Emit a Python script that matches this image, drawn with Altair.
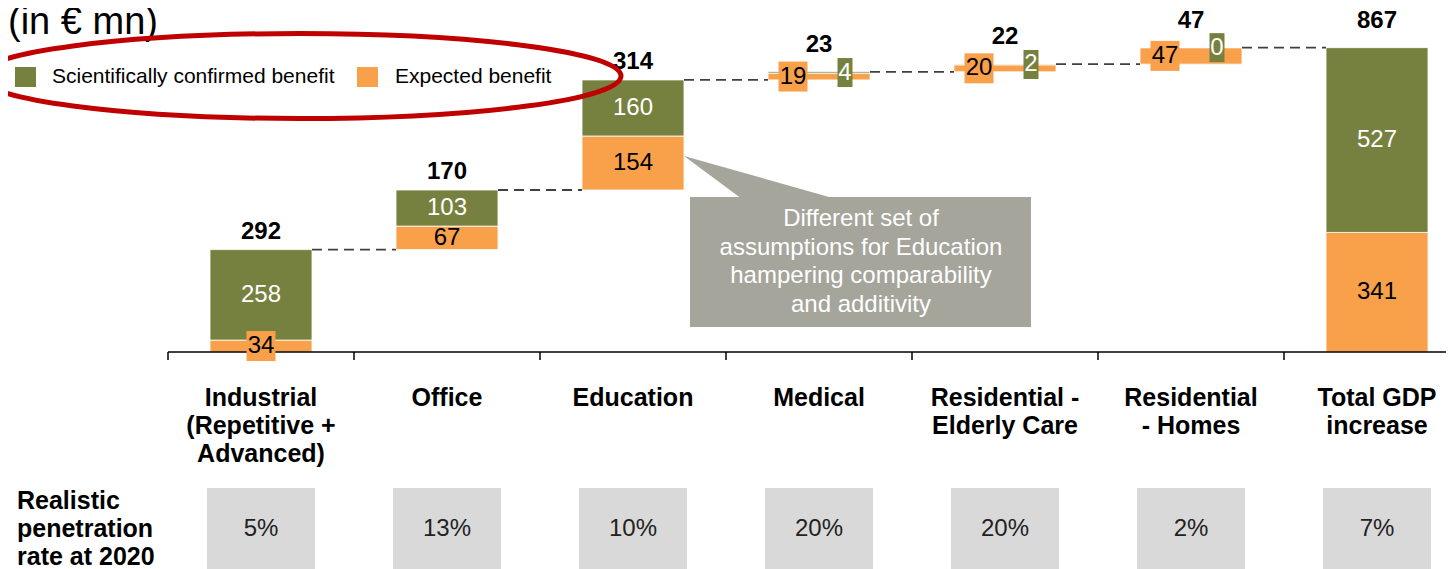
import altair as alt
import pandas as pd

# ---------------- data ----------------
categories = ["Industrial\n(Repetitive +\nAdvanced)", "Office", "Education", "Medical",
              "Residential -\nElderly Care", "Residential\n- Homes", "Total GDP\nincrease"]
confirmed = [258, 103, 160, 4, 2, 0, 527]
expected = [34, 67, 154, 19, 20, 47, 341]
totals = [292, 170, 314, 23, 22, 47, 867]
is_total = [False, False, False, False, False, False, True]
penetration = ["5%", "13%", "10%", "20%", "20%", "2%", "7%"]
callout_text = "Different set of\nassumptions for Education\nhampering comparability\nand additivity"
row_label = "Realistic\npenetration\nrate at 2020"
title_text = "(in \u20ac mn)"
legend_labels = ["Scientifically confirmed benefit", "Expected benefit"]

# ---------------- style ----------------
GREEN = "#77813f"
ORANGE = "#f9a04a"
CALLOUT = "#a5a59b"
BOXGREY = "#d9d9d9"
FONT = "Liberation Sans"

PLOT_W, PLOT_H = 1438, 561
X_DOMAIN = [-0.5, 6.5]
X_RANGE = [160, 1462]
Y_DOMAIN = [0, 867]
Y_RANGE = [344, 40]
STEP_PX = (X_RANGE[1] - X_RANGE[0]) / (X_DOMAIN[1] - X_DOMAIN[0])
UNIT_PX = (Y_RANGE[0] - Y_RANGE[1]) / (Y_DOMAIN[1] - Y_DOMAIN[0])
BAR_HALF = 51 / STEP_PX
PBOX_HALF = 54 / STEP_PX
SMALL_PX = 20
BOX_SHIFT = 26

xs = alt.Scale(domain=X_DOMAIN, range=X_RANGE)
ys = alt.Scale(domain=Y_DOMAIN, range=Y_RANGE, nice=False, zero=False)
cs = alt.Scale(domain=["Confirmed", "Expected"], range=[GREEN, ORANGE])

# ---------------- build tables ----------------
segs, tops, conns, big_lab, small_lab, cats = [], [], [], [], [], []
running = 0
for i in range(len(categories)):
    g, o = confirmed[i], expected[i]
    b = 0 if is_total[i] else running
    segs.append(dict(x=i - BAR_HALF, x2=i + BAR_HALF, y=b, y2=b + o, kind="Expected"))
    segs.append(dict(x=i - BAR_HALF, x2=i + BAR_HALF, y=b + o, y2=b + o + g, kind="Confirmed"))
    top = b + o + g
    tops.append(dict(x=i, y=top, label=str(totals[i]), grp="low" if i < 3 else "high"))
    cats.append(dict(x=i, label=categories[i], pen=penetration[i],
                     px1=i - PBOX_HALF, px2=i + PBOX_HALF))
    o_small = o * UNIT_PX < SMALL_PX
    g_small = g * UNIT_PX < SMALL_PX
    off = BOX_SHIFT / STEP_PX if (o_small and g_small) else 0
    for val, center, kind, small, sgn in [(o, b + o / 2, "Expected", o_small, -1),
                                          (g, b + o + g / 2, "Confirmed", g_small, 1)]:
        if small:
            small_lab.append(dict(x=i + sgn * off, y=center, label=str(val), kind=kind,
                                  digits=len(str(val))))
        else:
            big_lab.append(dict(x=i, y=center, label=str(val), kind=kind))
    if not is_total[i]:
        running += g + o
    if i < len(categories) - 1:
        conns.append(dict(x=i + BAR_HALF, x2=i + 1 - BAR_HALF, y=running))

segs, tops, conns = pd.DataFrame(segs), pd.DataFrame(tops), pd.DataFrame(conns)
big_lab, small_lab, cats = pd.DataFrame(big_lab), pd.DataFrame(small_lab), pd.DataFrame(cats)
one = pd.DataFrame({"a": [0]})
axis_df = pd.DataFrame({"x": [X_DOMAIN[0]], "x2": [len(categories) + 1], "y": [0]})
tick_df = pd.DataFrame({"x": [X_DOMAIN[0] + k for k in range(len(categories) + 1)], "y": 0})

# ---------------- layers ----------------
bars = alt.Chart(segs).mark_rect(stroke="white", strokeWidth=0.8).encode(
    x=alt.X("x:Q", scale=xs, axis=None), x2="x2:Q",
    y=alt.Y("y:Q", scale=ys, axis=None), y2="y2:Q",
    color=alt.Color("kind:N", scale=cs, legend=None))

axis_line = alt.Chart(axis_df).mark_rule(color="#000", strokeWidth=1.5).encode(
    x=alt.X("x:Q", scale=xs, axis=None), x2="x2:Q", y=alt.Y("y:Q", scale=ys, axis=None))
axis_ticks = alt.Chart(tick_df).mark_rule(color="#000", strokeWidth=1.5).encode(
    x=alt.X("x:Q", scale=xs, axis=None), y=alt.Y("y:Q", scale=ys, axis=None),
    y2=alt.value(Y_RANGE[0] + 8))

connectors = alt.Chart(conns).mark_rule(color="#404040", strokeWidth=1.8,
                                        strokeDash=[10, 6]).encode(
    x=alt.X("x:Q", scale=xs, axis=None), x2="x2:Q", y=alt.Y("y:Q", scale=ys, axis=None))

def seg_text(kind, col):
    return alt.Chart(big_lab).transform_filter(alt.datum.kind == kind).mark_text(
        font=FONT, fontSize=24, color=col, baseline="middle").encode(
        x=alt.X("x:Q", scale=xs, axis=None), y=alt.Y("y:Q", scale=ys, axis=None),
        text="label:N")

def box_layer(digits, path, size):
    return alt.Chart(small_lab).transform_filter(alt.datum.digits == digits).mark_point(
        shape=path, size=size, filled=True, opacity=1, strokeWidth=0).encode(
        x=alt.X("x:Q", scale=xs, axis=None), y=alt.Y("y:Q", scale=ys, axis=None),
        color=alt.Color("kind:N", scale=cs, legend=None))

box2 = box_layer(2, "M -0.967 -1 L 0.967 -1 L 0.967 1 L -0.967 1 Z", 900)
box1 = box_layer(1, "M -0.517 -1 L 0.517 -1 L 0.517 1 L -0.517 1 Z", 841)

def small_text(kind, col):
    return alt.Chart(small_lab).transform_filter(alt.datum.kind == kind).mark_text(
        font=FONT, fontSize=24, color=col, baseline="middle").encode(
        x=alt.X("x:Q", scale=xs, axis=None), y=alt.Y("y:Q", scale=ys, axis=None),
        text="label:N")

def top_text(grp, dy):
    return alt.Chart(tops).transform_filter(alt.datum.grp == grp).mark_text(
        font=FONT, fontSize=24, fontWeight="bold", color="#000", baseline="middle",
        dy=dy).encode(
        x=alt.X("x:Q", scale=xs, axis=None), y=alt.Y("y:Q", scale=ys, axis=None),
        text="label:N")

cat_text = alt.Chart(cats).mark_text(
    font=FONT, fontSize=25, fontWeight="bold", color="#000", baseline="top",
    align="center", lineBreak="\n", lineHeight=28).encode(
    x=alt.X("x:Q", scale=xs, axis=None), y=alt.value(378), text="label:N")

pen_boxes = alt.Chart(cats).mark_rect(color=BOXGREY).encode(
    x=alt.X("px1:Q", scale=xs, axis=None), x2="px2:Q", y=alt.value(480), y2=alt.value(620))

pen_text = alt.Chart(cats).mark_text(font=FONT, fontSize=24, color="#222",
                                     baseline="middle").encode(
    x=alt.X("x:Q", scale=xs, axis=None), y=alt.value(521), text="pen:N")

row_text = alt.Chart(one).mark_text(
    font=FONT, fontSize=25, fontWeight="bold", color="#000", align="left",
    baseline="top", lineBreak="\n", lineHeight=28, text=row_label).encode(
    x=alt.value(9), y=alt.value(481))

title = alt.Chart(one).mark_text(font=FONT, fontSize=38, color="#000", align="left",
                                 baseline="alphabetic", text=title_text).encode(
    x=alt.value(0), y=alt.value(26))

leg_g = alt.Chart(one).mark_rect(color=GREEN).encode(
    x=alt.value(7), x2=alt.value(28), y=alt.value(59), y2=alt.value(79))
leg_o = alt.Chart(one).mark_rect(color=ORANGE).encode(
    x=alt.value(349), x2=alt.value(370), y=alt.value(59), y2=alt.value(79))
leg_t1 = alt.Chart(one).mark_text(font=FONT, fontSize=21, color="#000", align="left",
                                  baseline="middle", text=legend_labels[0]).encode(
    x=alt.value(44), y=alt.value(69))
leg_t2 = alt.Chart(one).mark_text(font=FONT, fontSize=21, color="#000", align="left",
                                  baseline="middle", text=legend_labels[1]).encode(
    x=alt.value(387), y=alt.value(69))

call_box = alt.Chart(one).mark_rect(color=CALLOUT).encode(
    x=alt.value(682), x2=alt.value(1023), y=alt.value(189), y2=alt.value(319))
call_ptr = alt.Chart(one).mark_point(
    shape="M -1 -0.276 L -0.237 0.289 L 1 0.289 Z", size=23104, filled=True,
    opacity=1, color=CALLOUT, strokeWidth=0).encode(x=alt.value(752), y=alt.value(169))
call_text = alt.Chart(one).mark_text(
    font=FONT, fontSize=24, color="white", align="center", baseline="middle",
    lineBreak="\n", lineHeight=28.5, text=callout_text).encode(
    x=alt.value(853), y=alt.value(211))

# ellipse drawn as four cubic curves in a [-1, 1] box
R, K = 0.1324, 0.5523
ell_path = (f"M -1 0 C -1 {-K*R:.4f} {-K:.4f} {-R} 0 {-R} "
            f"C {K:.4f} {-R} 1 {-K*R:.4f} 1 0 "
            f"C 1 {K*R:.4f} {K:.4f} {R} 0 {R} "
            f"C {-K:.4f} {R} -1 {K*R:.4f} -1 0 Z")
ellipse = alt.Chart(one).mark_point(
    shape=ell_path, size=642 ** 2, filled=False, opacity=1, color="#c00000",
    strokeWidth=5).encode(x=alt.value(292), y=alt.value(68))

chart = alt.layer(
    pen_boxes, bars, axis_line, axis_ticks, connectors, box2, box1,
    seg_text("Confirmed", "white"), seg_text("Expected", "#000"),
    small_text("Confirmed", "white"), small_text("Expected", "#000"),
    top_text("low", -18), top_text("high", -27),
    cat_text, pen_text, row_text, title,
    leg_g, leg_o, leg_t1, leg_t2,
    call_ptr, call_box, call_text, ellipse,
).properties(
    width=PLOT_W, height=PLOT_H, padding=0,
    autosize=alt.AutoSizeParams(type="none"),
).configure(background="white", view=alt.ViewConfig(stroke=None))

chart.save("out.html", embed_options={"renderer": "svg", "actions": False})
